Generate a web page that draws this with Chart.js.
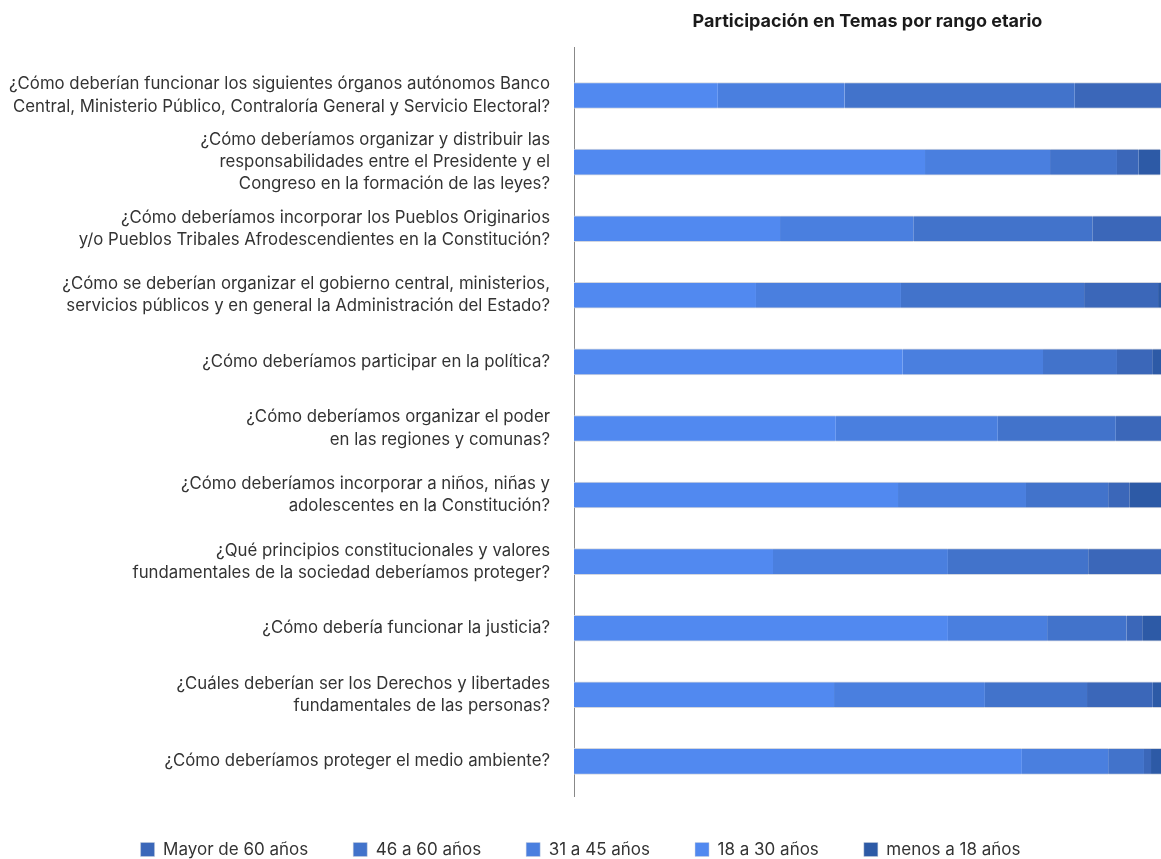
<!DOCTYPE html>
<html>
<head>
<meta charset="utf-8">
<script src="https://cdn.jsdelivr.net/npm/chart.js@4"></script>
<style>
  html, body { margin: 0; background: #fff; overflow: hidden; }
  #wrap { width: 1161px; height: 868px; }
</style>
</head>
<body>
<div id="wrap"><canvas id="graficoTemas"></canvas></div>
<script>
const temas = [
  ['¿Cómo deberían funcionar los siguientes órganos autónomos Banco', 'Central, Ministerio Público, Contraloría General y Servicio Electoral?'],
  ['¿Cómo deberíamos organizar y distribuir las', 'responsabilidades entre el Presidente y el', 'Congreso en la formación de las leyes?'],
  ['¿Cómo deberíamos incorporar los Pueblos Originarios', 'y/o Pueblos Tribales Afrodescendientes en la Constitución?'],
  ['¿Cómo se deberían organizar el gobierno central, ministerios,', 'servicios públicos y en general la Administración del Estado?'],
  '¿Cómo deberíamos participar en la política?',
  ['¿Cómo deberíamos organizar el poder', 'en las regiones y comunas?'],
  ['¿Cómo deberíamos incorporar a niños, niñas y', 'adolescentes en la Constitución?'],
  ['¿Qué principios constitucionales y valores', 'fundamentales de la sociedad deberíamos proteger?'],
  '¿Cómo debería funcionar la justicia?',
  ['¿Cuáles deberían ser los Derechos y libertades', 'fundamentales de las personas?'],
  '¿Cómo deberíamos proteger el medio ambiente?'
];

// porcentajes por rango etario (cada barra suma ~100)
const r18a30   = [24.5, 59.8, 35.1, 31.0, 56.0, 44.6, 55.2, 33.9, 63.7, 44.3, 76.3];
const r31a45   = [21.6, 21.3, 22.7, 24.7, 23.9, 27.6, 21.8, 29.8, 16.9, 25.7, 14.7];
const r46a60   = [39.2, 11.4, 30.5, 31.2, 12.6, 20.1, 14.0, 23.9, 13.5, 17.4, 6.1];
const mayor60  = [14.7, 3.7, 11.7, 12.6, 6.0, 7.7, 3.6, 12.4, 2.7, 11.2, 1.2];
const menos18  = [0, 3.7, 0, 0.5, 1.5, 0, 5.4, 0, 3.2, 1.4, 1.7];

const ordenLeyenda = ['Mayor de 60 años', '46 a 60 años', '31 a 45 años', '18 a 30 años', 'menos a 18 años'];

Chart.defaults.font.family = 'Inter, "Noto Sans", sans-serif';
Chart.defaults.color = '#333';

const borde = { top: 1, bottom: 1, left: 0, right: 0 };
const serie = (label, data, color) => ({
  label, data,
  backgroundColor: color,
  borderColor: 'rgba(205,210,220,0.9)',
  borderWidth: borde,
  borderSkipped: false,
  barThickness: 26
});

const ctx = document.getElementById('graficoTemas').getContext('2d');
new Chart(ctx, {
  type: 'bar',
  data: {
    labels: temas,
    datasets: [
      serie('18 a 30 años', r18a30, '#5189F0'),
      serie('31 a 45 años', r31a45, '#4A7FDF'),
      serie('46 a 60 años', r46a60, '#4273CB'),
      serie('Mayor de 60 años', mayor60, '#3B67B9'),
      serie('menos a 18 años', menos18, '#2D5AA6')
    ]
  },
  options: {
    indexAxis: 'y',
    responsive: true,
    maintainAspectRatio: false,
    animation: false,
    plugins: {
      title: {
        display: true,
        text: 'Participación en Temas por rango etario',
        fullSize: false,
        font: { size: 18, weight: 'bold' },
        color: '#1a1a1a',
        padding: { top: 11, bottom: 15 }
      },
      legend: {
        position: 'bottom',
        labels: {
          boxWidth: 14,
          boxHeight: 14,
          padding: 45,
          font: { size: 17 },
          color: '#333',
          sort: (a, b) => ordenLeyenda.indexOf(a.text) - ordenLeyenda.indexOf(b.text)
        }
      },
      tooltip: { enabled: false }
    },
    scales: {
      x: {
        stacked: true,
        display: false,
        min: 0,
        max: 100
      },
      y: {
        stacked: true,
        grid: { display: false },
        border: { display: true, color: '#888', width: 1 },
        ticks: {
          font: { size: 16.8, lineHeight: 1.32 },
          color: '#333',
          padding: 16,
          autoSkip: false
        },
        afterFit: (scale) => { scale.width = 574; },
        // un poco más de aire arriba que abajo, como en el original
        afterBuildTicks: (scale) => {
          scale._startValue = -0.5 - 0.22;
          scale._valueRange = temas.length + 0.22 + 0.02;
        }
      }
    }
  }
});
</script>
</body>
</html>
